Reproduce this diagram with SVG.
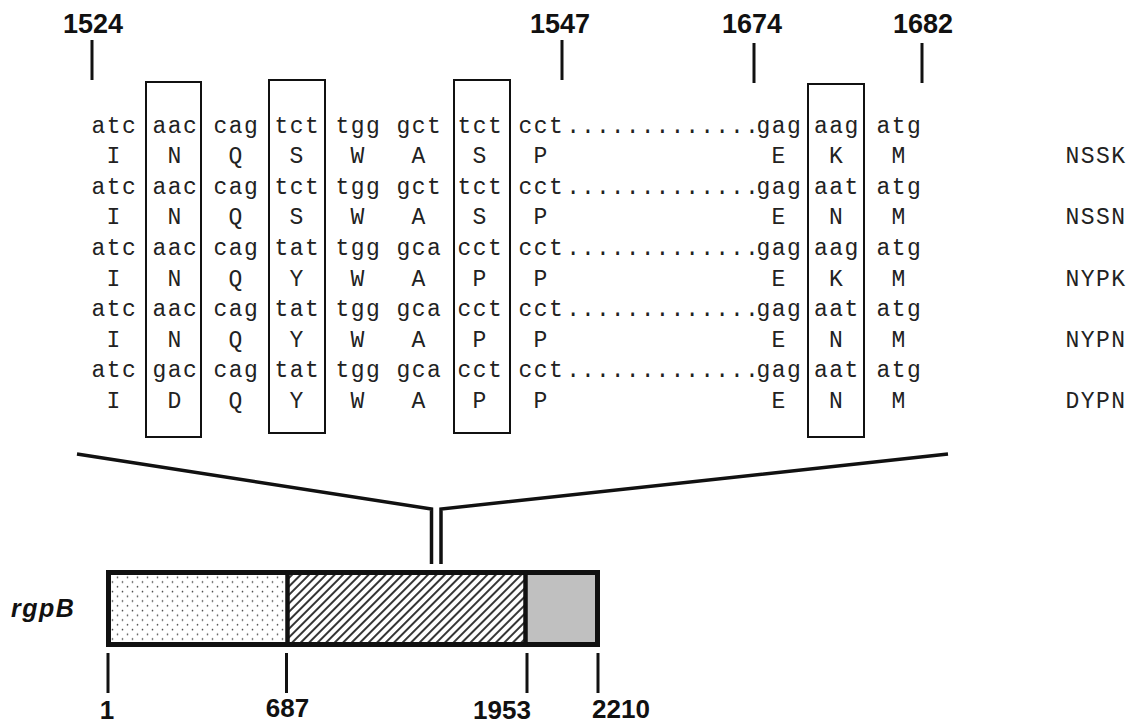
<svg xmlns="http://www.w3.org/2000/svg" width="1131" height="724" viewBox="0 0 1131 724">
<style>
.s{font-family:"Liberation Mono",monospace;font-size:23px;fill:#222;letter-spacing:1.45px;text-anchor:middle}
.a{font-family:"Liberation Mono",monospace;font-size:23px;fill:#222;text-anchor:middle}
.d{font-family:"Liberation Mono",monospace;font-size:23px;fill:#222;letter-spacing:1.1px;text-anchor:middle}
.n{font-family:"Liberation Sans",Arial,sans-serif;font-size:27px;font-weight:bold;fill:#111;text-anchor:middle}
.b{font-family:"Liberation Sans",Arial,sans-serif;font-size:26px;font-weight:bold;fill:#111;text-anchor:middle}
.box{fill:none;stroke:#111;stroke-width:2}
.tk{stroke:#111;stroke-width:3}
.ln{fill:none;stroke:#111;stroke-width:3.5}
</style>
<defs>
<pattern id="dots" width="10" height="9.5" patternUnits="userSpaceOnUse">
<circle cx="2.5" cy="2.5" r="0.8" fill="#444"/>
<circle cx="7.5" cy="7.25" r="0.8" fill="#444"/>
</pattern>
<pattern id="hatch" width="6" height="6" patternUnits="userSpaceOnUse" patternTransform="rotate(45)">
<rect x="0" y="0" width="6" height="6" fill="#fff"/>
<line x1="1" y1="0" x2="1" y2="6" stroke="#111" stroke-width="1.7"/>
</pattern>
</defs>
<rect width="1131" height="724" fill="#fff"/>

<g id="positions-top">
<text class="n" x="93" y="33">1524</text>
<text class="n" x="560" y="33">1547</text>
<text class="n" x="752" y="33">1674</text>
<text class="n" x="923" y="33">1682</text>
<line class="tk" x1="92" y1="40" x2="92" y2="80"/>
<line class="tk" x1="562" y1="40" x2="562" y2="80"/>
<line class="tk" x1="754" y1="43" x2="754" y2="83"/>
<line class="tk" x1="922" y1="43" x2="922" y2="83"/>
</g>

<g id="alignment">
<text class="s" y="132.5"><tspan x="114.5">atc</tspan><tspan x="175.5">aac</tspan><tspan x="236.5">cag</tspan><tspan x="297.5">tct</tspan><tspan x="358.5">tgg</tspan><tspan x="419.5">gct</tspan><tspan x="480.5">tct</tspan><tspan x="541.5">cct</tspan><tspan x="779.5">gag</tspan><tspan x="837">aag</tspan><tspan x="899.5">atg</tspan></text>
<text class="a" y="163.1" x="113.5 174.5 235.5 296.5 357.5 418.5 479.5 540.5 778.5 836 898.5">INQSWASPEKM</text>
<text class="s" y="193.7"><tspan x="114.5">atc</tspan><tspan x="175.5">aac</tspan><tspan x="236.5">cag</tspan><tspan x="297.5">tct</tspan><tspan x="358.5">tgg</tspan><tspan x="419.5">gct</tspan><tspan x="480.5">tct</tspan><tspan x="541.5">cct</tspan><tspan x="779.5">gag</tspan><tspan x="837">aat</tspan><tspan x="899.5">atg</tspan></text>
<text class="a" y="224.3" x="113.5 174.5 235.5 296.5 357.5 418.5 479.5 540.5 778.5 836 898.5">INQSWASPENM</text>
<text class="s" y="254.9"><tspan x="114.5">atc</tspan><tspan x="175.5">aac</tspan><tspan x="236.5">cag</tspan><tspan x="297.5">tat</tspan><tspan x="358.5">tgg</tspan><tspan x="419.5">gca</tspan><tspan x="480.5">cct</tspan><tspan x="541.5">cct</tspan><tspan x="779.5">gag</tspan><tspan x="837">aag</tspan><tspan x="899.5">atg</tspan></text>
<text class="a" y="285.5" x="113.5 174.5 235.5 296.5 357.5 418.5 479.5 540.5 778.5 836 898.5">INQYWAPPEKM</text>
<text class="s" y="316.1"><tspan x="114.5">atc</tspan><tspan x="175.5">aac</tspan><tspan x="236.5">cag</tspan><tspan x="297.5">tat</tspan><tspan x="358.5">tgg</tspan><tspan x="419.5">gca</tspan><tspan x="480.5">cct</tspan><tspan x="541.5">cct</tspan><tspan x="779.5">gag</tspan><tspan x="837">aat</tspan><tspan x="899.5">atg</tspan></text>
<text class="a" y="346.7" x="113.5 174.5 235.5 296.5 357.5 418.5 479.5 540.5 778.5 836 898.5">INQYWAPPENM</text>
<text class="s" y="377.3"><tspan x="114.5">atc</tspan><tspan x="175.5">gac</tspan><tspan x="236.5">cag</tspan><tspan x="297.5">tat</tspan><tspan x="358.5">tgg</tspan><tspan x="419.5">gca</tspan><tspan x="480.5">cct</tspan><tspan x="541.5">cct</tspan><tspan x="779.5">gag</tspan><tspan x="837">aat</tspan><tspan x="899.5">atg</tspan></text>
<text class="a" y="407.9" x="113.5 174.5 235.5 296.5 357.5 418.5 479.5 540.5 778.5 836 898.5">IDQYWAPPENM</text>
<text class="d" x="663" y="132.5">.............</text>
<text class="d" x="663" y="193.7">.............</text>
<text class="d" x="663" y="254.9">.............</text>
<text class="d" x="663" y="316.1">.............</text>
<text class="d" x="663" y="377.3">.............</text>
</g>

<g id="variant-labels">
<text class="s" x="1096" y="163.1">NSSK</text>
<text class="s" x="1096" y="224.3">NSSN</text>
<text class="s" x="1096" y="285.5">NYPK</text>
<text class="s" x="1096" y="346.7">NYPN</text>
<text class="s" x="1096" y="407.9">DYPN</text>
</g>

<g id="boxes">
<rect class="box" x="146" y="82" width="55" height="355"/>
<rect class="box" x="269" y="80" width="56" height="353"/>
<rect class="box" x="454" y="80" width="56" height="353"/>
<rect class="box" x="808" y="84" width="56" height="353"/>
</g>

<g id="connectors">
<polyline class="ln" points="77,454 431.5,509 431.5,564"/>
<polyline class="ln" points="441,564 441,509 948,454"/>
</g>

<g id="gene">
<text x="11" y="617" style="font-family:'Liberation Sans',Arial,sans-serif;font-size:25px;font-style:italic;font-weight:bold;fill:#111;letter-spacing:1.5px">rgpB</text>
<rect x="108.5" y="572.5" width="179" height="72" fill="url(#dots)"/>
<rect x="287.5" y="572.5" width="238" height="72" fill="url(#hatch)"/>
<rect x="525.5" y="572.5" width="72" height="72" fill="#c0c0c0"/>
<rect x="108.5" y="572.5" width="489" height="72" fill="none" stroke="#111" stroke-width="5"/>
<line x1="287.5" y1="572" x2="287.5" y2="645" stroke="#111" stroke-width="4.5"/>
<line x1="525.5" y1="572" x2="525.5" y2="645" stroke="#111" stroke-width="4.5"/>
</g>

<g id="positions-bottom">
<line class="tk" x1="108" y1="653" x2="108" y2="693"/>
<line class="tk" x1="286.5" y1="653" x2="286.5" y2="693"/>
<line class="tk" x1="527" y1="653" x2="527" y2="693"/>
<line class="tk" x1="598" y1="653" x2="598" y2="693"/>
<text class="b" x="107" y="719">1</text>
<text class="b" x="287.5" y="717">687</text>
<text class="b" x="502" y="719">1953</text>
<text class="b" x="621" y="718">2210</text>
</g>
</svg>
